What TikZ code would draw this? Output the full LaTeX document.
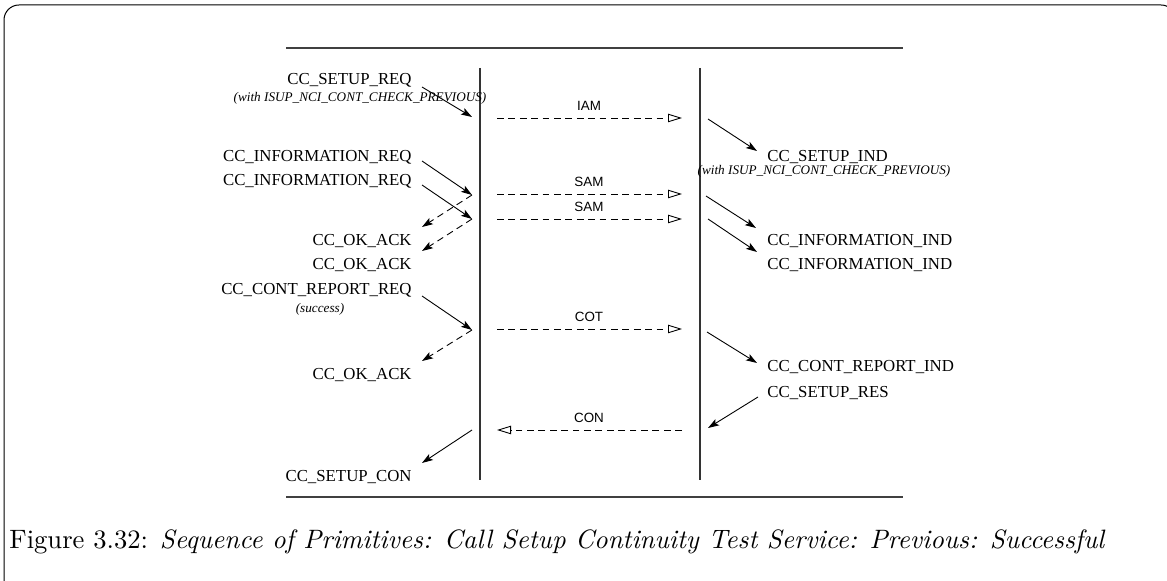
\documentclass[tikz,border=0pt]{standalone}
\usepackage{fontspec}
\setmainfont{Latin Modern Roman}
\newfontfamily\timesf{Liberation Serif}
\newfontfamily\helvf{Liberation Sans}
\usetikzlibrary{arrows.meta}
\tikzset{
  lifeline/.style={line width=0.6pt, draw=black!80},
  rule/.style={line width=0.55pt, draw=black!75},
  msg/.style={line width=0.45pt, dash pattern=on 3.4pt off 2.3pt, -{Triangle[open,length=7pt,width=4.2pt]}},
  prim/.style={line width=0.45pt, -{Stealth[length=5.5pt,width=3.6pt,inset=1.2pt]}},
  ack/.style={line width=0.45pt, dash pattern=on 3.4pt off 2.3pt, -{Stealth[length=5.5pt,width=3.6pt,inset=1.2pt]}},
  lbl/.style={inner sep=0pt, font=\timesf\fontsize{8.4}{10}\selectfont},
  note/.style={inner sep=0pt, font=\timesf\itshape\fontsize{6.6}{8}\selectfont},
  mlbl/.style={inner sep=0pt, anchor=base, font=\helvf\fontsize{6.7}{8}\selectfont},
}
\begin{document}
\begin{tikzpicture}[x=0.5pt,y=-0.5pt]
\useasboundingbox (0,0) rectangle (1167,581);
\clip (0,0) rectangle (1167,581);
\draw[line width=0.5pt, rounded corners=7.5pt] (4,5) rectangle (1176,610);

% rules
\coordinate (T1) at (286,48); \coordinate (T2) at (903,48);
\coordinate (B1) at (286,497); \coordinate (B2) at (903,497);
\draw[rule] (T1) -- (T2);
\draw[rule] (B1) -- (B2);

% lifelines
\coordinate (LT) at (480,68); \coordinate (LB) at (480,480);
\coordinate (RT) at (700,68); \coordinate (RB) at (700,480);
\draw[lifeline] (LT) -- (LB);
\draw[lifeline] (RT) -- (RB);

% messages
\coordinate (iamS) at (497,118); \coordinate (iamE) at (682,118);
\coordinate (sam1S) at (497,194); \coordinate (sam1E) at (682,194);
\coordinate (sam2S) at (497,219); \coordinate (sam2E) at (682,219);
\coordinate (cotS) at (497,329); \coordinate (cotE) at (682,329);
\coordinate (conS) at (682,430); \coordinate (conE) at (497,430);
\draw[msg] (iamS) -- (iamE);
\draw[msg] (sam1S) -- (sam1E);
\draw[msg] (sam2S) -- (sam2E);
\draw[msg] (cotS) -- (cotE);
\draw[msg] (conS) -- (conE);
\node[mlbl] (iam) at (589,111) {IAM};
\node[mlbl] (sam1) at (589,187) {SAM};
\node[mlbl] (sam2) at (589,212) {SAM};
\node[mlbl] (cot) at (589,322) {COT};
\node[mlbl] (con) at (589,423) {CON};

% left primitives
\coordinate (a1) at (422,87);  \coordinate (a1e) at (472,117);
\coordinate (a2) at (422,161); \coordinate (a2e) at (472,195);
\coordinate (a3) at (422,185); \coordinate (a3e) at (472,219);
\coordinate (k1) at (422,227);
\coordinate (k2) at (422,251);
\coordinate (a4) at (422,296); \coordinate (a4e) at (472,330);
\coordinate (k3) at (422,361);
\coordinate (a5) at (472,430); \coordinate (a5e) at (422,463);
\draw[prim] (a1) -- (a1e);
\draw[prim] (a2) -- (a2e);
\draw[prim] (a3) -- (a3e);
\draw[ack] (a2e) -- (k1);
\draw[ack] (a3e) -- (k2);
\draw[prim] (a4) -- (a4e);
\draw[ack] (a4e) -- (k3);
\draw[prim] (a5) -- (a5e);

% right primitives
\coordinate (b1) at (708,119); \coordinate (b1e) at (757,151);
\coordinate (b2) at (706,196); \coordinate (b2e) at (756,228);
\coordinate (b3) at (708,219); \coordinate (b3e) at (757,252);
\coordinate (b4) at (707,332); \coordinate (b4e) at (757,363);
\coordinate (b5) at (758,397); \coordinate (b5e) at (708,428);
\draw[prim] (b1) -- (b1e);
\draw[prim] (b2) -- (b2e);
\draw[prim] (b3) -- (b3e);
\draw[prim] (b4) -- (b4e);
\draw[prim] (b5) -- (b5e);

% left labels
\node[lbl, anchor=base east] (l1) at (412,85) {CC\_SETUP\_REQ};
\node[note, anchor=base] (n1) at (360,102) {(with ISUP\_NCI\_CONT\_CHECK\_PREVIOUS)};
\node[lbl, anchor=base east] (l2) at (412,162) {CC\_INFORMATION\_REQ};
\node[lbl, anchor=base east] (l3) at (412,186) {CC\_INFORMATION\_REQ};
\node[lbl, anchor=base east] (l4) at (412,246) {CC\_OK\_ACK};
\node[lbl, anchor=base east] (l5) at (412,270) {CC\_OK\_ACK};
\node[lbl, anchor=base east] (l6) at (412,295) {CC\_CONT\_REPORT\_REQ};
\node[note, anchor=base] (n2) at (320,313) {(success)};
\node[lbl, anchor=base east] (l7) at (412,380) {CC\_OK\_ACK};
\node[lbl, anchor=base east] (l8) at (412,482) {CC\_SETUP\_CON};

% right labels
\node[lbl, anchor=base west] (r1) at (767,162) {CC\_SETUP\_IND};
\node[note, anchor=base] (n3) at (824,175) {(with ISUP\_NCI\_CONT\_CHECK\_PREVIOUS)};
\node[lbl, anchor=base west] (r2) at (767,246) {CC\_INFORMATION\_IND};
\node[lbl, anchor=base west] (r3) at (767,270) {CC\_INFORMATION\_IND};
\node[lbl, anchor=base west] (r4) at (767,372) {CC\_CONT\_REPORT\_IND};
\node[lbl, anchor=base west] (r5) at (767,398) {CC\_SETUP\_RES};

% caption
\node[inner sep=0pt, anchor=base west] (cap) at (9,549)
  {\resizebox{548pt}{!}{\fontsize{10}{12}\selectfont Figure 3.32: \textit{Sequence of Primitives: Call Setup Continuity Test Service: Previous: Successful}}};
\end{tikzpicture}
\end{document}
